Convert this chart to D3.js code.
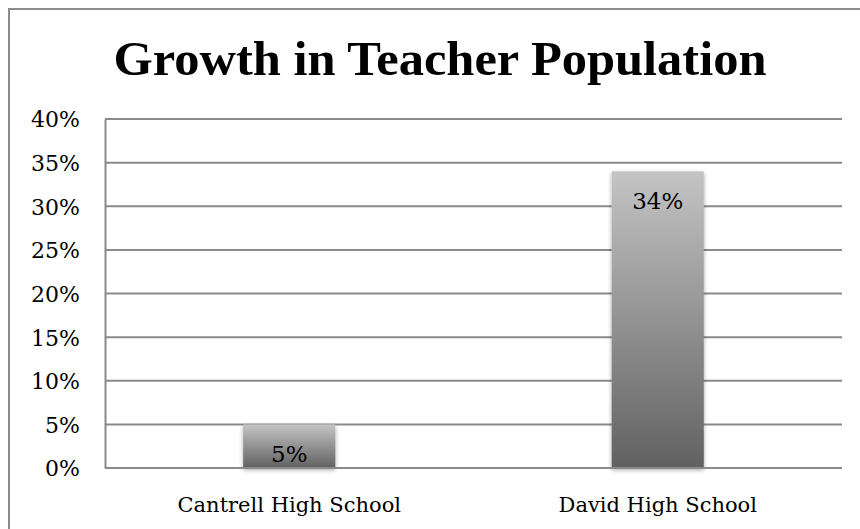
<!DOCTYPE html>
<html>
<head>
<meta charset="utf-8">
<script src="https://cdn.jsdelivr.net/npm/d3@7/dist/d3.min.js"></script>
<style>
  html, body { margin: 0; padding: 0; background: #fff; }
  svg { display: block; }
</style>
</head>
<body>
<svg id="chart" width="860" height="529"></svg>
<script>
// Chart data
const title = "Growth in Teacher Population";
const categories = ["Cantrell High School", "David High School"];
const growth = [0.05, 0.34];
const yTicks = [0, 0.05, 0.10, 0.15, 0.20, 0.25, 0.30, 0.35, 0.40];

const W = 860, H = 529;
const margin = { left: 105, right: 18, top: 119, bottom: 61 };
const plotW = W - margin.left - margin.right;
const plotH = H - margin.top - margin.bottom;

const svg = d3.select("#chart");
const serif = "'DejaVu Serif', 'Liberation Serif', serif";
const gridColor = "#8a8a8a";

// Gradient fill for bars (light at top, dark at bottom)
const defs = svg.append("defs");
const grad = defs.append("linearGradient")
  .attr("id", "barGrad").attr("x1", 0).attr("y1", 0).attr("x2", 0).attr("y2", 1);
grad.append("stop").attr("offset", "0%").attr("stop-color", "#c4c4c4");
grad.append("stop").attr("offset", "100%").attr("stop-color", "#616161");
const shadow = defs.append("filter").attr("id", "barShadow")
  .attr("x", "-20%").attr("y", "-20%").attr("width", "140%").attr("height", "140%");
shadow.append("feDropShadow")
  .attr("dx", 0).attr("dy", 2).attr("stdDeviation", 2)
  .attr("flood-color", "#000").attr("flood-opacity", 0.35);

// Chart frame
svg.append("path")
  .attr("d", `M9,${H + 2} L9,9 L${W + 2},9`)
  .attr("fill", "none").attr("stroke", "#8c8c8c").attr("stroke-width", 2);

// Title
svg.append("text")
  .attr("x", 440).attr("y", 75)
  .attr("text-anchor", "middle")
  .attr("font-family", "'Liberation Serif', serif")
  .attr("font-weight", "bold")
  .attr("font-size", 49)
  .attr("textLength", 653)
  .attr("lengthAdjust", "spacingAndGlyphs")
  .attr("fill", "#000")
  .text(title);

const g = svg.append("g").attr("transform", `translate(${margin.left},${margin.top})`);

const x = d3.scaleBand().domain(categories).range([0, plotW]).paddingInner(0.75).paddingOuter(0.375);
const y = d3.scaleLinear().domain([0, 0.40]).range([plotH, 0]);

// Gridlines
g.append("g").selectAll("line").data(yTicks).join("line")
  .attr("x1", 0).attr("x2", plotW)
  .attr("y1", d => y(d)).attr("y2", d => y(d))
  .attr("stroke", gridColor).attr("stroke-width", 2);

// Y axis
const yAxis = g.append("g")
  .call(d3.axisLeft(y).tickValues(yTicks).tickFormat(d3.format(".0%")).tickSize(0).tickPadding(25));
yAxis.select(".domain").attr("stroke", gridColor).attr("stroke-width", 2);
yAxis.selectAll("text")
  .attr("font-family", serif).attr("font-size", 22).attr("fill", "#000").attr("dy", "0.36em");

// X axis
const xAxis = g.append("g").attr("transform", `translate(0,${plotH})`)
  .call(d3.axisBottom(x).tickSize(0).tickPadding(33));
xAxis.select(".domain").remove();
xAxis.selectAll("text")
  .attr("font-family", serif).attr("font-size", 21).attr("fill", "#000").attr("dy", "0.5em");

// Bars
g.append("g").selectAll("rect").data(growth).join("rect")
  .attr("x", (d, i) => x(categories[i]))
  .attr("y", d => y(d))
  .attr("width", x.bandwidth())
  .attr("height", d => plotH - y(d))
  .attr("fill", "url(#barGrad)")
  .attr("filter", "url(#barShadow)");

// Redraw the baseline over bars
g.append("line").attr("x1", 0).attr("x2", plotW).attr("y1", plotH).attr("y2", plotH)
  .attr("stroke", gridColor).attr("stroke-width", 2);

// Value labels (inside end)
g.append("g").selectAll("text").data(growth).join("text")
  .attr("x", (d, i) => x(categories[i]) + x.bandwidth() / 2)
  .attr("y", d => y(d) + 38)
  .attr("text-anchor", "middle")
  .attr("font-family", serif).attr("font-size", 23).attr("fill", "#000")
  .text(d => d3.format(".0%")(d));
</script>
</body>
</html>
